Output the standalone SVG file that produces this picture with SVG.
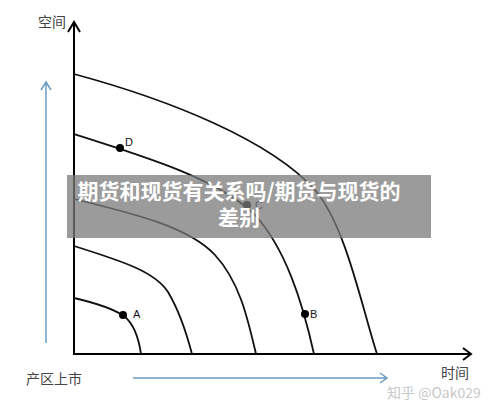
<svg xmlns="http://www.w3.org/2000/svg" width="500" height="413" viewBox="0 0 500 413">
<style>
.ax{fill:none;stroke:#000;stroke-width:2}
.cv{fill:none;stroke:#111;stroke-width:1.8}
.bl{fill:none;stroke:#6b9cc4;stroke-width:1.5}
.lbl{font-family:"Liberation Sans",Arial,sans-serif;font-size:11px;fill:#111}
.cn{font-family:"Noto Sans CJK SC",sans-serif;font-size:14px;fill:#444}
.ttl{font-family:"Noto Sans CJK SC",sans-serif;font-size:21px;font-weight:bold;fill:#fff;text-anchor:middle}
</style>
<rect width="500" height="413" fill="#fff"/>
<g id="connectors">
<path class="ax" d="M74,355 V22 M68,32 L74,22 L80,32"/>
<path class="ax" d="M73,354 H471 M463,348 L471,354 L463,360"/>
<path class="bl" d="M46,343 V82 M41,90 L46,82 L51,90"/>
<path class="bl" d="M133,378 H387 M380,373 L387,378 L380,383"/>
<path class="cv" d="M74,74 C170,100 270,140 315,190 C345,225 360,300 377,354"/>
<path class="cv" d="M74,134 C150,158 220,180 255,215 C285,248 302,300 314,354"/>
<path class="cv" d="M74,199 C140,215 190,228 215,255 C240,282 248,320 256,354"/>
<path class="cv" d="M74,246 C125,262 155,272 168,292 C180,312 187,335 192,354"/>
<path class="cv" d="M74,298 C100,304 115,310 124,316 C134,324 139,340 141,354"/>
</g>
<g id="nodeD"><circle cx="120" cy="148" r="4"/><text class="lbl" x="125" y="146">D</text></g>
<g id="nodeC"><circle cx="247" cy="205" r="4"/><text class="lbl" x="255" y="209">C</text></g>
<g id="nodeA"><circle cx="123" cy="315" r="4"/><text class="lbl" x="133" y="318">A</text></g>
<g id="nodeB"><circle cx="305" cy="314" r="4"/><text class="lbl" x="310" y="318">B</text></g>
<g id="labels">
<text class="cn" x="38" y="27">空间</text>
<text class="cn" x="26" y="384">产区上市</text>
<text class="cn" x="441" y="378">时间</text>
<text x="387" y="398" style="font-family:'Noto Sans CJK SC',sans-serif;font-size:14px;fill:#c8c8c8">知乎 @Oak029</text>
</g>
<g id="banner">
<rect x="67" y="175" width="364" height="63" fill="#7a7a7a" fill-opacity="0.75"/>
<text class="ttl" x="239" y="199">期货和现货有关系吗/期货与现货的</text>
<text class="ttl" x="239" y="225">差别</text>
</g>
</svg>
